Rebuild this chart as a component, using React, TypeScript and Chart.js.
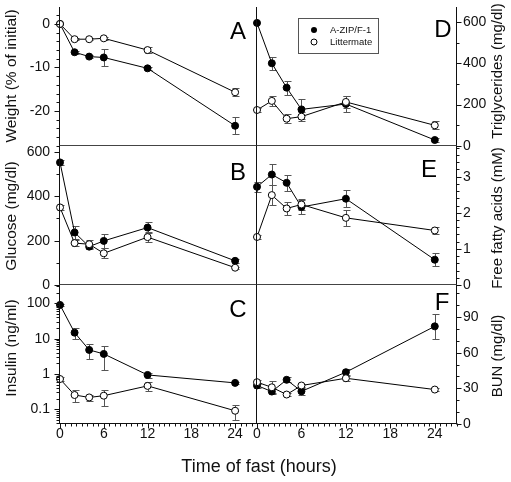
import React, { useEffect, useRef } from "react";
import { Chart, registerables } from "chart.js";

Chart.register(...registerables);

const W = 511;
const H = 482;
const FONT = '"Liberation Sans", Arial, Helvetica, sans-serif';

// ---------- data ----------
const hours = [0, 2, 4, 6, 12, 24];
const xTickLabels = [0, 6, 12, 18, 24];
const seriesNames = ["A-ZIP/F-1", "Littermate"];

const weightZip = [0, -6.5, -7.5, -7.7, -10.2, -23.4];
const weightZipErr = [0, 0.3, 0.3, 2.0, 0.3, 2.0];
const weightLit = [0, -3.5, -3.5, -3.3, -6.0, -15.7];
const weightLitErr = [0, 0.3, 0.3, 0.3, 0.7, 0.9];

const glucoseZip = [553, 237, 173, 199, 259, 109];
const glucoseZipErr = [10, 28, 12, 30, 25, 8];
const glucoseLit = [350, 189, 184, 143, 216, 78];
const glucoseLitErr = [10, 15, 18, 22, 22, 5];

const insulinZip = [90, 14.8, 4.8, 3.7, 0.94, 0.56];
const insulinZipErr = [5, 5, 2.2, 2.4, 0.15, 0.05];
const insulinLit = [0.72, 0.254, 0.217, 0.243, 0.46, 0.091];
const insulinLitErr = [0.08, 0.09, 0.04, 0.12, 0.12, 0.04];

const tgZip = [595, 400, 282, 177, 203, 29];
const tgZipErr = [0, 32, 34, 48, 38, 8];
const tgLit = [174, 218, 132, 142, 213, 100];
const tgLitErr = [8, 24, 22, 20, 30, 20];

const ffaZip = [2.72, 3.06, 2.83, 2.16, 2.39, 0.7];
const ffaZipErr = [0.14, 0.3, 0.22, 0.2, 0.23, 0.18];
const ffaLit = [1.33, 2.49, 2.12, 2.23, 1.86, 1.51];
const ffaLitErr = [0.05, 0.28, 0.18, 0.15, 0.22, 0.1];

const bunZip = [32.4, 27.3, 37.2, 27.5, 43.6, 82.2];
const bunZipErr = [2, 2, 2, 3, 2.5, 10.6];
const bunLit = [35.2, 30.9, 24.8, 32.4, 38.5, 29.0];
const bunLitErr = [1.5, 5, 1.5, 1.5, 2, 1];

const weightTicks = [0, -10, -20];
const glucoseTicks = [0, 200, 400, 600];
const insulinTicks = [0.1, 1, 10, 100];
const tgTicks = [0, 200, 400, 600];
const ffaTicks = [0, 1, 2, 3];
const bunTicks = [0, 30, 60, 90];

// ---------- layout ----------
type Panel = {
  key: string;
  rect: [number, number, number, number]; // left, top, right, bottom
  side: "left" | "right";
  log?: boolean;
  min: number;
  max: number;
  majors: number[];
  minorStep?: number;
  title: string;
  titleY: number;
  letter: string;
  letterX: number;
  letterY: number;
  zip: number[];
  zipErr: number[];
  lit: number[];
  litErr: number[];
  bottom: boolean;
  legend?: boolean;
  xTitle?: boolean;
};

const LX = 60;
const MX = 257;
const RX = 457;
const R1 = 7;
const R2 = 146;
const R3 = 285;
const R4 = 424;

const panels: Panel[] = [
  {
    key: "A", rect: [LX, R1, MX, R2], side: "left", min: -28.05, max: 3.9,
    majors: weightTicks, minorStep: 2, title: "Weight (% of initial)", titleY: 76,
    letter: "A", letterX: 238, letterY: 32,
    zip: weightZip, zipErr: weightZipErr, lit: weightLit, litErr: weightLitErr, bottom: false,
  },
  {
    key: "B", rect: [LX, R2, MX, R3], side: "left", min: 0, max: 627,
    majors: glucoseTicks, minorStep: 100, title: "Glucose (mg/dl)", titleY: 216,
    letter: "B", letterX: 238, letterY: 173,
    zip: glucoseZip, zipErr: glucoseZipErr, lit: glucoseLit, litErr: glucoseLitErr, bottom: false,
  },
  {
    key: "C", rect: [LX, R3, MX, R4], side: "left", log: true, min: 0.0384, max: 330,
    majors: insulinTicks, title: "Insulin (ng/ml)", titleY: 348,
    letter: "C", letterX: 238, letterY: 310,
    zip: insulinZip, zipErr: insulinZipErr, lit: insulinLit, litErr: insulinLitErr, bottom: true, xTitle: true,
  },
  {
    key: "D", rect: [MX, R1, RX, R2], side: "right", min: 0, max: 672,
    majors: tgTicks, minorStep: 100, title: "Triglycerides (mg/dl)", titleY: 71,
    letter: "D", letterX: 443, letterY: 30,
    zip: tgZip, zipErr: tgZipErr, lit: tgLit, litErr: tgLitErr, bottom: false, legend: true,
  },
  {
    key: "E", rect: [MX, R2, RX, R3], side: "right", min: 0, max: 3.85,
    majors: ffaTicks, minorStep: 0.2, title: "Free fatty acids (mM)", titleY: 218,
    letter: "E", letterX: 429, letterY: 170,
    zip: ffaZip, zipErr: ffaZipErr, lit: ffaLit, litErr: ffaLitErr, bottom: false,
  },
  {
    key: "F", rect: [MX, R3, RX, R4], side: "right", min: 0, max: 117,
    majors: bunTicks, minorStep: 10, title: "BUN (mg/dl)", titleY: 356,
    letter: "F", letterX: 442, letterY: 303,
    zip: bunZip, zipErr: bunZipErr, lit: bunLit, litErr: bunLitErr, bottom: true,
  },
];

const X_MIN = 0;
const X_MAX = 27;
const X_MINOR = 0.75;

function linearMinors(min: number, max: number, step: number, majors: number[]): number[] {
  const out: number[] = [];
  for (let k = Math.ceil(min / step - 1e-9); k * step <= max + 1e-9; k++) {
    const v = Math.round(k * step * 1e6) / 1e6;
    if (!majors.some((m) => Math.abs(m - v) < 1e-9)) out.push(v);
  }
  return out;
}

function logMinors(min: number, max: number): number[] {
  const out: number[] = [];
  for (let e = -4; e <= 4; e++) {
    for (let m = 2; m <= 9; m++) {
      const v = m * Math.pow(10, e);
      if (v > min && v < max) out.push(v);
    }
  }
  return out;
}

const crisp = (v: number) => Math.round(v) + 0.5;

function makePlugin(p: Panel) {
  return {
    id: "deco" + p.key,
    beforeDatasetsDraw(chart: any) {
      const ctx = chart.ctx;
      const xs = chart.scales.x;
      const ys = chart.scales.y;
      ctx.save();
      ctx.strokeStyle = "#555";
      ctx.lineWidth = 1;
      const groups: [number[], number[]][] = [
        [p.zip, p.zipErr],
        [p.lit, p.litErr],
      ];
      groups.forEach(([vals, errs]) => {
        vals.forEach((v, i) => {
          const e = errs[i];
          if (!e) return;
          const x = crisp(xs.getPixelForValue(hours[i]));
          const hi = crisp(ys.getPixelForValue(v + e));
          const lowV = p.log ? Math.max(v - e, p.min) : v - e;
          const lo = crisp(ys.getPixelForValue(lowV));
          ctx.beginPath();
          ctx.moveTo(x, hi);
          ctx.lineTo(x, lo);
          ctx.moveTo(x - 3, hi);
          ctx.lineTo(x + 4, hi);
          ctx.moveTo(x - 3, lo);
          ctx.lineTo(x + 4, lo);
          ctx.stroke();
        });
      });
      ctx.restore();
    },
    afterDraw(chart: any) {
      const ctx = chart.ctx;
      const a = chart.chartArea;
      const xs = chart.scales.x;
      const ys = chart.scales.y;
      const L = crisp(a.left) - 1;
      const R = crisp(a.right) - 1;
      const T = a.top;
      const B = crisp(a.bottom) - 1;
      ctx.save();
      ctx.strokeStyle = "#111";
      ctx.lineWidth = 1;

      // vertical axis lines
      ctx.beginPath();
      ctx.moveTo(L, T);
      ctx.lineTo(L, B + 0.5);
      if (p.side === "right") {
        ctx.moveTo(R, T);
        ctx.lineTo(R, B + 0.5);
      }
      ctx.stroke();

      // bottom line (separator or x axis)
      ctx.beginPath();
      ctx.strokeStyle = p.bottom ? "#111" : "#444";
      ctx.moveTo(L, B);
      ctx.lineTo(p.side === "right" ? R : crisp(a.right), B);
      ctx.stroke();

      // y ticks
      ctx.strokeStyle = "#111";
      const axisX = p.side === "left" ? L : R;
      const dir = p.side === "left" ? -1 : 1;
      const minors = p.log ? logMinors(p.min, p.max) : linearMinors(p.min, p.max, p.minorStep || 1, p.majors);
      ctx.beginPath();
      minors.forEach((v) => {
        const y = crisp(ys.getPixelForValue(v));
        ctx.moveTo(axisX, y);
        ctx.lineTo(axisX + dir * 3, y);
      });
      p.majors.forEach((v) => {
        const y = crisp(ys.getPixelForValue(v));
        ctx.moveTo(axisX, y);
        ctx.lineTo(axisX + dir * 5, y);
      });
      ctx.stroke();

      // x ticks
      if (p.bottom) {
        const xMinors = linearMinors(X_MIN, X_MAX, X_MINOR, xTickLabels);
        ctx.beginPath();
        xMinors.forEach((v) => {
          const x = crisp(xs.getPixelForValue(v));
          ctx.moveTo(x, B);
          ctx.lineTo(x, B + 3);
        });
        xTickLabels.forEach((v) => {
          const x = crisp(xs.getPixelForValue(v));
          ctx.moveTo(x, B);
          ctx.lineTo(x, B + 5);
        });
        ctx.stroke();
      }

      // panel letter
      ctx.fillStyle = "#000";
      ctx.font = `24px ${FONT}`;
      ctx.textAlign = "center";
      ctx.textBaseline = "middle";
      ctx.fillText(p.letter, p.letterX, p.letterY);

      // axis title (reads bottom to top on both sides)
      ctx.save();
      ctx.translate(p.side === "left" ? 12 : 498, p.titleY);
      ctx.rotate(-Math.PI / 2);
      ctx.font = `${p.side === "left" ? 15.5 : 15}px ${FONT}`;
      ctx.fillStyle = "#111";
      ctx.fillText(p.title, 0, 0);
      ctx.restore();

      if (p.xTitle) {
        ctx.font = `18px ${FONT}`;
        ctx.fillStyle = "#111";
        ctx.textAlign = "center";
        ctx.textBaseline = "middle";
        ctx.fillText("Time of fast (hours)", 259, 467);
      }

      if (p.legend) {
        ctx.strokeStyle = "#555";
        ctx.strokeRect(298.5, 18.5, 80, 35);
        ctx.lineWidth = 1;
        ctx.beginPath();
        ctx.arc(314, 30, 3, 0, Math.PI * 2);
        ctx.fillStyle = "#000";
        ctx.fill();
        ctx.beginPath();
        ctx.arc(314, 42, 3, 0, Math.PI * 2);
        ctx.fillStyle = "#fff";
        ctx.fill();
        ctx.strokeStyle = "#000";
        ctx.stroke();
        ctx.fillStyle = "#111";
        ctx.font = `9.5px ${FONT}`;
        ctx.textAlign = "left";
        ctx.textBaseline = "middle";
        ctx.fillText(seriesNames[0], 330, 30);
        ctx.fillText(seriesNames[1], 330, 42);
      }
      ctx.restore();
    },
  };
}

function fixFit(s: any, size: number, horizontal: boolean) {
  if (horizontal) s.height = size;
  else s.width = size;
  s.paddingLeft = 0;
  s.paddingRight = 0;
  s.paddingTop = 0;
  s.paddingBottom = 0;
}

function buildConfig(p: Panel): any {
  const [l, t, r, b] = p.rect;
  const pts = (vals: number[]) => hours.map((h, i) => ({ x: h, y: vals[i] }));
  const common = {
    borderColor: "#000",
    borderWidth: 1,
    pointRadius: 3.5,
    pointBorderColor: "#000",
    pointBorderWidth: 1,
    tension: 0,
    clip: false,
    fill: false,
  };
  const yWidth = p.side === "left" ? l : W - r;
  const xHeight = p.bottom ? H - b : 0;
  return {
    type: "line",
    data: {
      datasets: [
        { ...common, label: seriesNames[1], data: pts(p.lit), pointBackgroundColor: "#fff", backgroundColor: "#fff" },
        { ...common, label: seriesNames[0], data: pts(p.zip), pointBackgroundColor: "#000", backgroundColor: "#000" },
      ],
    },
    options: {
      animation: false,
      responsive: false,
      devicePixelRatio: 1,
      events: [],
      layout: {
        padding: {
          left: p.side === "left" ? 0 : l,
          right: p.side === "right" ? 0 : W - r,
          top: t,
          bottom: p.bottom ? 0 : H - b,
        },
      },
      plugins: { legend: { display: false }, tooltip: { enabled: false }, title: { display: false } },
      scales: {
        x: {
          type: "linear",
          min: X_MIN,
          max: X_MAX,
          bounds: "data",
          display: p.bottom,
          grid: { display: false, drawTicks: false },
          border: { display: false },
          ticks: {
            autoSkip: false,
            maxRotation: 0,
            padding: 2,
            color: "#111",
            font: { family: FONT, size: 14 },
            callback: (v: any) => String(v),
          },
          afterBuildTicks: (s: any) => {
            s.ticks = xTickLabels.map((v) => ({ value: v }));
          },
          afterFit: (s: any) => fixFit(s, xHeight, true),
        },
        y: {
          type: p.log ? "logarithmic" : "linear",
          position: p.side,
          min: p.min,
          max: p.max,
          bounds: "data",
          grid: { display: false, drawTicks: false },
          border: { display: false },
          ticks: {
            autoSkip: false,
            padding: p.side === "left" ? 10 : 6,
            color: "#111",
            font: { family: FONT, size: 14 },
            callback: (v: any) => String(v),
          },
          afterBuildTicks: (s: any) => {
            s.ticks = p.majors.map((v) => ({ value: v }));
          },
          afterFit: (s: any) => fixFit(s, yWidth, false),
        },
      },
    },
    plugins: [makePlugin(p)],
  };
}

export default function App() {
  const refs = useRef<(HTMLCanvasElement | null)[]>([]);

  useEffect(() => {
    document.body.style.margin = "0";
    document.body.style.background = "#fff";
    const charts = panels.map((p, i) => new Chart(refs.current[i] as HTMLCanvasElement, buildConfig(p)));
    return () => charts.forEach((c) => c.destroy());
  }, []);

  return (
    <div style={{ position: "relative", width: W, height: H, background: "#fff" }}>
      {panels.map((p, i) => (
        <canvas
          key={p.key}
          ref={(el) => {
            refs.current[i] = el;
          }}
          width={W}
          height={H}
          style={{ position: "absolute", left: 0, top: 0, width: W, height: H }}
        />
      ))}
    </div>
  );
}
